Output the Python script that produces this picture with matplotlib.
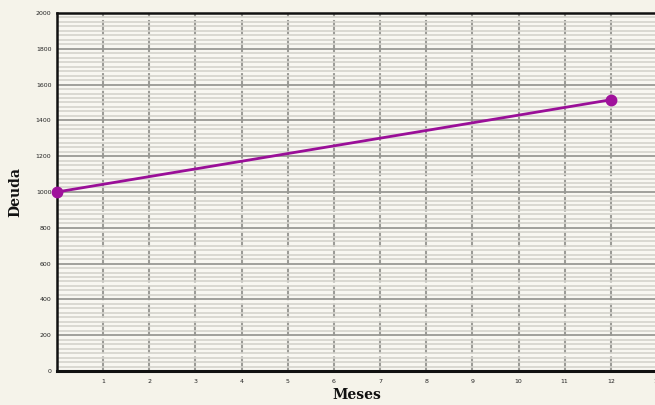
import matplotlib
matplotlib.use("Agg")
import matplotlib.pyplot as plt
from matplotlib.ticker import MultipleLocator

# Debt over time
meses = [0, 12]
deuda = [1000, 1515]

x_ticks = list(range(1, 14))
y_ticks = list(range(0, 2001, 200))

fig = plt.figure(figsize=(6.55, 4.05), dpi=100)
fig.patch.set_facecolor("#f5f3ea")

ax = fig.add_axes([0.087, 0.084, 0.916, 0.884])
ax.set_facecolor("#f8f7f1")

ax.set_xlim(0, 13)
ax.set_ylim(0, 2000)

# minor horizontal ruling
ax.yaxis.set_minor_locator(MultipleLocator(25))
ax.grid(which="minor", axis="y", color="#d4d3cc", linewidth=1.2)
ax.grid(which="major", axis="y", color="#999994", linewidth=1.3)
ax.grid(which="major", axis="x", color="#9c9c97", linewidth=1.5,
        linestyle=(0, (7, 1.5)))
ax.set_axisbelow(True)

ax.set_xticks(x_ticks)
ax.set_xticklabels([str(v) for v in x_ticks])
ax.set_yticks(y_ticks)
ax.set_yticklabels([str(v) for v in y_ticks])
ax.tick_params(axis="both", which="both", length=0, labelsize=4.5,
               colors="#222222")
ax.tick_params(axis="x", pad=6)
ax.tick_params(axis="y", pad=4)

ax.spines["right"].set_visible(False)
ax.spines["top"].set_color("#111111")
ax.spines["top"].set_linewidth(1.8)
ax.spines["bottom"].set_color("#111111")
ax.spines["bottom"].set_linewidth(2.2)
ax.spines["left"].set_color("#111111")
ax.spines["left"].set_linewidth(1.8)

ax.plot(meses, deuda, color="#9a0f98", linewidth=2.0, marker="o",
        markersize=7.5, markerfacecolor="#a0129c", markeredgecolor="#a0129c",
        clip_on=False, zorder=5)

ax.set_xlabel("Meses", family="DejaVu Serif", fontweight="bold", fontsize=10,
              labelpad=3, color="#111111")
ax.set_ylabel("Deuda", family="DejaVu Serif", fontweight="bold", fontsize=10,
              labelpad=10, color="#111111")

fig.savefig("out.png", dpi=100, facecolor=fig.get_facecolor())
